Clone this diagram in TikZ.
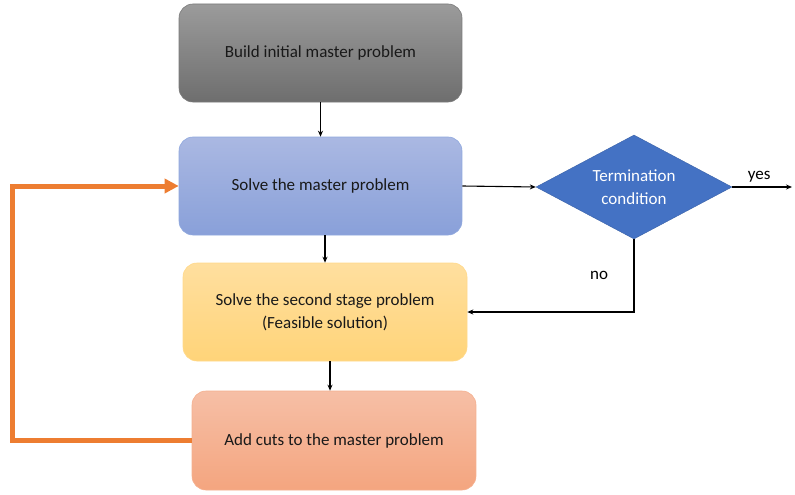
\documentclass[tikz,border=0pt]{standalone}
\usepackage{fontspec}
\setmainfont{Carlito}
\usetikzlibrary{shapes.geometric}
\usetikzlibrary{arrows.meta}

\definecolor{grayTop}{HTML}{9B9B9B}
\definecolor{grayBot}{HTML}{6E6E6E}
\definecolor{grayLine}{HTML}{7A7A7A}
\definecolor{blueTop}{HTML}{AAB8E2}
\definecolor{blueBot}{HTML}{89A0D9}
\definecolor{blueLine}{HTML}{8FA8DE}
\definecolor{yellowTop}{HTML}{FFDF9F}
\definecolor{yellowBot}{HTML}{FFD479}
\definecolor{yellowLine}{HTML}{FFD98A}
\definecolor{salmonTop}{HTML}{F6BFA6}
\definecolor{salmonBot}{HTML}{F4A57F}
\definecolor{salmonLine}{HTML}{F4B08F}
\definecolor{testBlue}{HTML}{4472C4}
\definecolor{loopOrange}{HTML}{ED7D31}

\begin{document}
\begin{tikzpicture}[x=1pt,y=-1pt,->,>={Stealth[length=6pt,width=5pt]},line width=1.1pt,font=\fontsize{17}{23}\selectfont,step node/.style={rectangle,rounded corners=14pt,draw,line width=0.6pt,align=center,minimum width=283pt,minimum height=98pt,text=black!90},test node/.style={diamond,aspect=1.9,inner sep=0pt,fill=testBlue,draw=testBlue!85!black,line width=0.4pt,text=white,align=center,minimum width=196pt,minimum height=104pt}]

	      \useasboundingbox (0,0) rectangle (795,495);

	      \node[step node,top color=grayTop,bottom color=grayBot,draw=grayLine] at (320.5,53) (build) {Build initial master problem};
	      \node[step node,top color=blueTop,bottom color=blueBot,draw=blueLine] at (320.5,186) (master) {Solve the master problem};
	      \node[step node,top color=yellowTop,bottom color=yellowBot,draw=yellowLine,minimum width=284pt] at (325,312) (second) {Solve the second stage problem\\(Feasible solution)};
	      \node[step node,top color=salmonTop,bottom color=salmonBot,draw=salmonLine,minimum width=284pt,minimum height=99pt] at (334,440.5) (cuts) {Add cuts to the master problem};
	      \node[test node] at (634,187) (test) {Termination\\condition};

	      \coordinate (out) at (792,187);
	      \coordinate (loop) at (12,440.5);

	      \path
	      (build) edge (master)
	      (master.east) edge (test.west)
	      (second.north |- master.south) edge (second.north)
	      ([xshift=5pt]second.south) edge ([xshift=5pt]second.south |- cuts.north)
	      (test.east) edge node[above,pos=0.45,yshift=1pt] {yes} (out)
	      ;

	      \draw (test.south) |- node[pos=0.25,left=22pt] {no} (second.east);

	      \draw[loopOrange,line width=5pt,-{Triangle[length=14pt,width=14pt]}] (cuts.west) -- (loop) |- (master.west);

	    \end{tikzpicture}
\end{document}
